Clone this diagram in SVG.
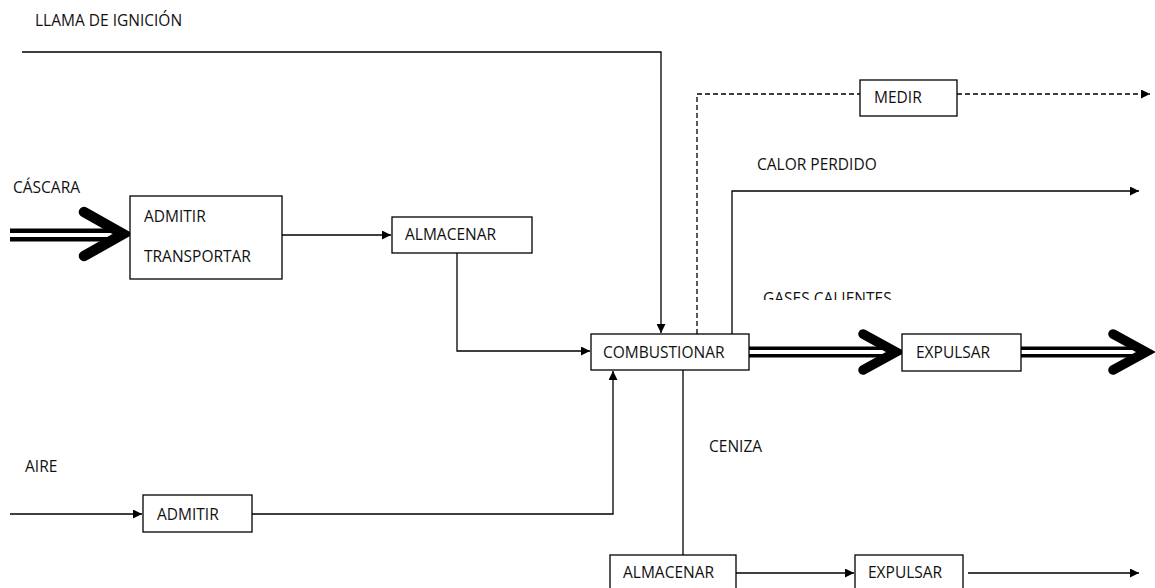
<svg xmlns="http://www.w3.org/2000/svg" width="1155" height="588" viewBox="0 0 1155 588">
<style>
.box{fill:#fff;stroke:#000;stroke-width:1.3}
.t{font-family:"Open Sans","Liberation Sans",sans-serif;font-size:15.5px;fill:#111}
.ln{fill:none;stroke:#000;stroke-width:1.3}
.dash{fill:none;stroke:#000;stroke-width:1.3;stroke-dasharray:5,3}
.dbo{fill:none;stroke:#000}
.dbi{fill:none;stroke:#fff;stroke-width:4}
.chev{fill:none;stroke:#000;stroke-linecap:round;stroke-linejoin:miter}
</style>
<defs>
<marker id="ah" viewBox="0 0 10 10" refX="10" refY="5" markerWidth="9" markerHeight="9" markerUnits="userSpaceOnUse" orient="auto">
<path d="M0,0 L10,5 L0,10 z" fill="#000"/>
</marker>
<clipPath id="gclip"><rect x="700" y="270" width="300" height="30"/></clipPath>
</defs>
<rect width="1155" height="588" fill="#fff"/>

<g id="labels">
<text class="t" x="35" y="26">LLAMA DE IGNICIÓN</text>
<text class="t" x="13" y="193">CÁSCARA</text>
<text class="t" x="25" y="472">AIRE</text>
<text class="t" x="757" y="170">CALOR PERDIDO</text>
<text class="t" x="763" y="304" clip-path="url(#gclip)">GASES CALIENTES</text>
<text class="t" x="709" y="452">CENIZA</text>
</g>

<g id="connectors">
<path class="ln" d="M22,52 H661 V333" marker-end="url(#ah)"/>
<path class="ln" d="M282,235 H391" marker-end="url(#ah)"/>
<path class="ln" d="M457,253 V351 H590" marker-end="url(#ah)"/>
<path class="ln" d="M10,514 H142" marker-end="url(#ah)"/>
<path class="ln" d="M252,514 H613 V371" marker-end="url(#ah)"/>
<path class="ln" d="M683,370 V555"/>
<path class="ln" d="M736,573 H854" marker-end="url(#ah)"/>
<path class="ln" d="M968,573 H1139" marker-end="url(#ah)"/>
<path class="dash" d="M697,334 V94 H860"/>
<path class="dash" d="M957,94 H1150" marker-end="url(#ah)"/>
<path class="ln" d="M732,334 V191 H1139" marker-end="url(#ah)"/>
<!-- double arrows -->
<path class="dbo" stroke-width="13" d="M10,235 H116"/>
<path class="dbi" d="M10,235 H116"/>
<path class="chev" stroke-width="10.5" d="M84,212 L123,234 L84,256"/>
<path class="dbo" stroke-width="11" d="M749,352 H891"/>
<path class="dbi" d="M749,352 H891"/>
<path class="chev" stroke-width="9.5" d="M863,334 L896,352 L863,370"/>
<path class="dbo" stroke-width="11" d="M1021,352 H1141"/>
<path class="dbi" d="M1021,352 H1141"/>
<path class="chev" stroke-width="9.5" d="M1113,334 L1146,352 L1113,370"/>
</g>

<g id="admitir-transportar">
<rect class="box" x="130" y="196" width="152" height="83"/>
<text class="t" x="144" y="222">ADMITIR</text>
<text class="t" x="144" y="262">TRANSPORTAR</text>
</g>
<g id="almacenar1">
<rect class="box" x="392" y="217" width="140" height="36"/>
<text class="t" x="405" y="240">ALMACENAR</text>
</g>
<g id="combustionar">
<rect class="box" x="591" y="334" width="158" height="36"/>
<text class="t" x="603" y="358">COMBUSTIONAR</text>
</g>
<g id="expulsar1">
<rect class="box" x="902" y="334" width="119" height="37"/>
<text class="t" x="916" y="358">EXPULSAR</text>
</g>
<g id="medir">
<rect class="box" x="860" y="80" width="97" height="36"/>
<text class="t" x="874" y="103">MEDIR</text>
</g>
<g id="admitir2">
<rect class="box" x="143" y="495" width="109" height="37"/>
<text class="t" x="157" y="520">ADMITIR</text>
</g>
<g id="almacenar2">
<rect class="box" x="610" y="555" width="126" height="40"/>
<text class="t" x="623" y="578">ALMACENAR</text>
</g>
<g id="expulsar2">
<rect class="box" x="855" y="555" width="108" height="40"/>
<text class="t" x="868" y="578">EXPULSAR</text>
</g>
</svg>
